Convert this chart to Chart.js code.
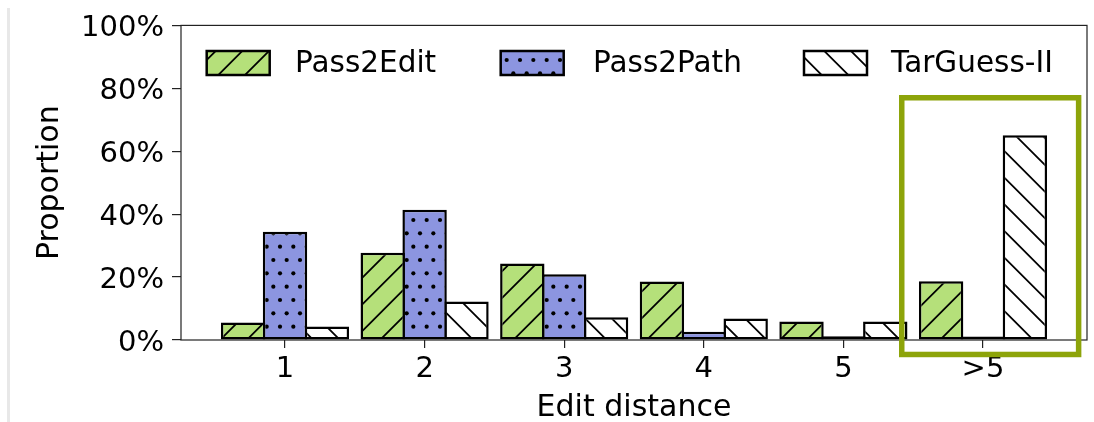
<!DOCTYPE html>
<html>
<head>
<meta charset="utf-8">
<script src="https://cdn.jsdelivr.net/npm/chart.js@4.4.1/dist/chart.umd.min.js"></script>
<style>
  html, body { margin: 0; padding: 0; background: #fff; }
  #wrap { position: relative; width: 1094px; height: 422px; overflow: hidden; }
  #edge { position: absolute; left: 7px; top: 8px; width: 3px; height: 414px; background: #e8e8e8; }
  #c { position: absolute; left: 0; top: 0; }
</style>
</head>
<body>
<div id="wrap">
  <div id="edge"></div>
  <canvas id="c" width="1094" height="422"></canvas>
</div>
<script>
// Share of cracked passwords per edit distance (percent)
const categories = ['1', '2', '3', '4', '5', '>5'];
const pass2Edit  = [5.6, 27.7, 24.3, 18.6, 5.9, 18.7];
const pass2Path  = [34.4, 41.4, 20.9, 2.6, 1.2, 1.1];
const tarGuess   = [4.3, 12.2, 7.2, 6.8, 5.9, 65.1];
const yTicks     = [0, 20, 40, 60, 80, 100];
const seriesNames = ['Pass2Edit', 'Pass2Path', 'TarGuess-II'];

const FONT = 'DejaVu Sans';
const TILE = 80;

function makePattern(fill, draw) {
  const c = document.createElement('canvas');
  c.width = c.height = TILE;
  const g = c.getContext('2d');
  g.fillStyle = fill;
  g.fillRect(0, 0, TILE, TILE);
  g.strokeStyle = '#000';
  g.fillStyle = '#000';
  draw(g);
  return g.createPattern(c, 'repeat');
}

// "/" hatch
const hatchSlash = makePattern('#b5e07a', g => {
  const step = TILE / 3;
  g.lineWidth = 1.8;
  g.beginPath();
  for (let k = 0; k <= 6; k++) {
    const c = k * step;
    g.moveTo(c + 6, -6);
    g.lineTo(c - TILE - 6, TILE + 6);
  }
  g.stroke();
});

// "." hatch, staggered rows of dots
const hatchDots = makePattern('#8c95e0', g => {
  const step = TILE / 6;
  for (let j = 0; j < 6; j++) {
    const y = j * step + step / 2;
    const off = (j % 2) * step / 2;
    for (let i = -1; i <= 6; i++) {
      g.beginPath();
      g.arc(i * step + off, y, 2.1, 0, Math.PI * 2);
      g.fill();
    }
  }
});

// "\" hatch
const hatchBack = makePattern('#ffffff', g => {
  const step = TILE / 3;
  g.lineWidth = 1.8;
  g.beginPath();
  for (let k = -3; k <= 3; k++) {
    const c = k * step;
    g.moveTo(-6, c - 6);
    g.lineTo(TILE + 6, c + TILE + 6);
  }
  g.stroke();
});

const fills = [hatchSlash, hatchDots, hatchBack];
const seriesValues = [pass2Edit, pass2Path, tarGuess];

const datasets = seriesNames.map((name, s) => ({
  label: name,
  data: seriesValues[s].map((v, i) => ({ x: i, y: v })),
  backgroundColor: fills[s],
  borderColor: '#000',
  borderWidth: 2.5,
  borderSkipped: false,
  categoryPercentage: 0.9,
  barPercentage: 1.06
}));

// Highlight frame around the ">5" group, in axis units
const highlight = { xFrom: 4.418, xTo: 5.685, yTop: 77.0, yBottom: -4.6, color: '#8da40a', width: 5.5 };

// Legend entry placement (swatch left edge, text left edge), px from the plot's left side
const legendSlots = [[25.7, 114], [319.7, 412], [623, 710]];

const framePlugin = {
  id: 'frame',
  afterDatasetsDraw(chart) {
    const { ctx, chartArea: a } = chart;
    ctx.save();
    ctx.strokeStyle = '#222';
    ctx.lineWidth = 1.2;
    ctx.strokeRect(a.left, a.top, a.right - a.left, a.bottom - a.top);
    ctx.restore();
  }
};

const legendPlugin = {
  id: 'hatchLegend',
  afterDraw(chart) {
    const { ctx, chartArea: a } = chart;
    ctx.save();
    ctx.font = `29.5px "${FONT}"`;
    ctx.textBaseline = 'middle';
    ctx.textAlign = 'left';
    const top = 51, w = 63, h = 24, cy = top + h / 2;
    chart.data.datasets.forEach((ds, i) => {
      const [sx, tx] = legendSlots[i];
      ctx.fillStyle = ds.backgroundColor;
      ctx.fillRect(a.left + sx, top, w, h);
      ctx.strokeStyle = '#000';
      ctx.lineWidth = 2.5;
      ctx.strokeRect(a.left + sx, top, w, h);
      ctx.fillStyle = '#000';
      ctx.fillText(ds.label, a.left + tx, cy + 1);
    });
    ctx.restore();
  }
};

const highlightPlugin = {
  id: 'highlightBox',
  afterDraw(chart) {
    const { ctx, scales: { x, y } } = chart;
    const l = x.getPixelForValue(highlight.xFrom), r = x.getPixelForValue(highlight.xTo);
    const t = y.getPixelForValue(highlight.yTop), b = y.getPixelForValue(highlight.yBottom);
    ctx.save();
    ctx.strokeStyle = highlight.color;
    ctx.lineWidth = highlight.width;
    ctx.strokeRect(l, t, r - l, b - t);
    ctx.restore();
  }
};

new Chart(document.getElementById('c'), {
  type: 'bar',
  data: { datasets },
  plugins: [framePlugin, legendPlugin, highlightPlugin],
  options: {
    responsive: false,
    animation: false,
    events: [],
    layout: { padding: { left: 0, right: 7, top: 23, bottom: 0 } },
    plugins: { legend: { display: false }, tooltip: { enabled: false } },
    scales: {
      x: {
        type: 'linear',
        min: -0.745,
        max: 5.745,
        offset: false,
        afterBuildTicks(axis) { axis.ticks = categories.map((_, i) => ({ value: i })); },
        afterFit(axis) { axis.height = 82; },
        ticks: {
          callback: v => categories[v],
          font: { family: FONT, size: 29, lineHeight: 1.2 },
          color: '#000',
          padding: 4,
          maxRotation: 0,
          autoSkip: false
        },
        grid: { display: true, offset: false, drawOnChartArea: false, drawTicks: true, tickLength: 8, color: '#222', lineWidth: 1.2 },
        border: { display: false },
        title: {
          display: true,
          text: 'Edit distance',
          color: '#000',
          font: { family: FONT, size: 30, lineHeight: 0.9 },
          padding: { top: 0, bottom: 0 }
        }
      },
      y: {
        min: 0,
        max: 100,
        afterBuildTicks(axis) { axis.ticks = yTicks.map(v => ({ value: v })); },
        afterFit(axis) { axis.width = 181; },
        ticks: {
          callback: v => v + '%',
          font: { family: FONT, size: 29 },
          color: '#000',
          padding: 8,
          labelOffset: 3
        },
        grid: { display: true, drawOnChartArea: false, drawTicks: true, tickLength: 9, color: '#222', lineWidth: 1.2 },
        border: { display: false },
        title: {
          display: true,
          text: 'Proportion',
          color: '#000',
          font: { family: FONT, size: 30, lineHeight: 1.2 },
          padding: { top: 32, bottom: 0 }
        }
      }
    }
  }
});
</script>
</body>
</html>
